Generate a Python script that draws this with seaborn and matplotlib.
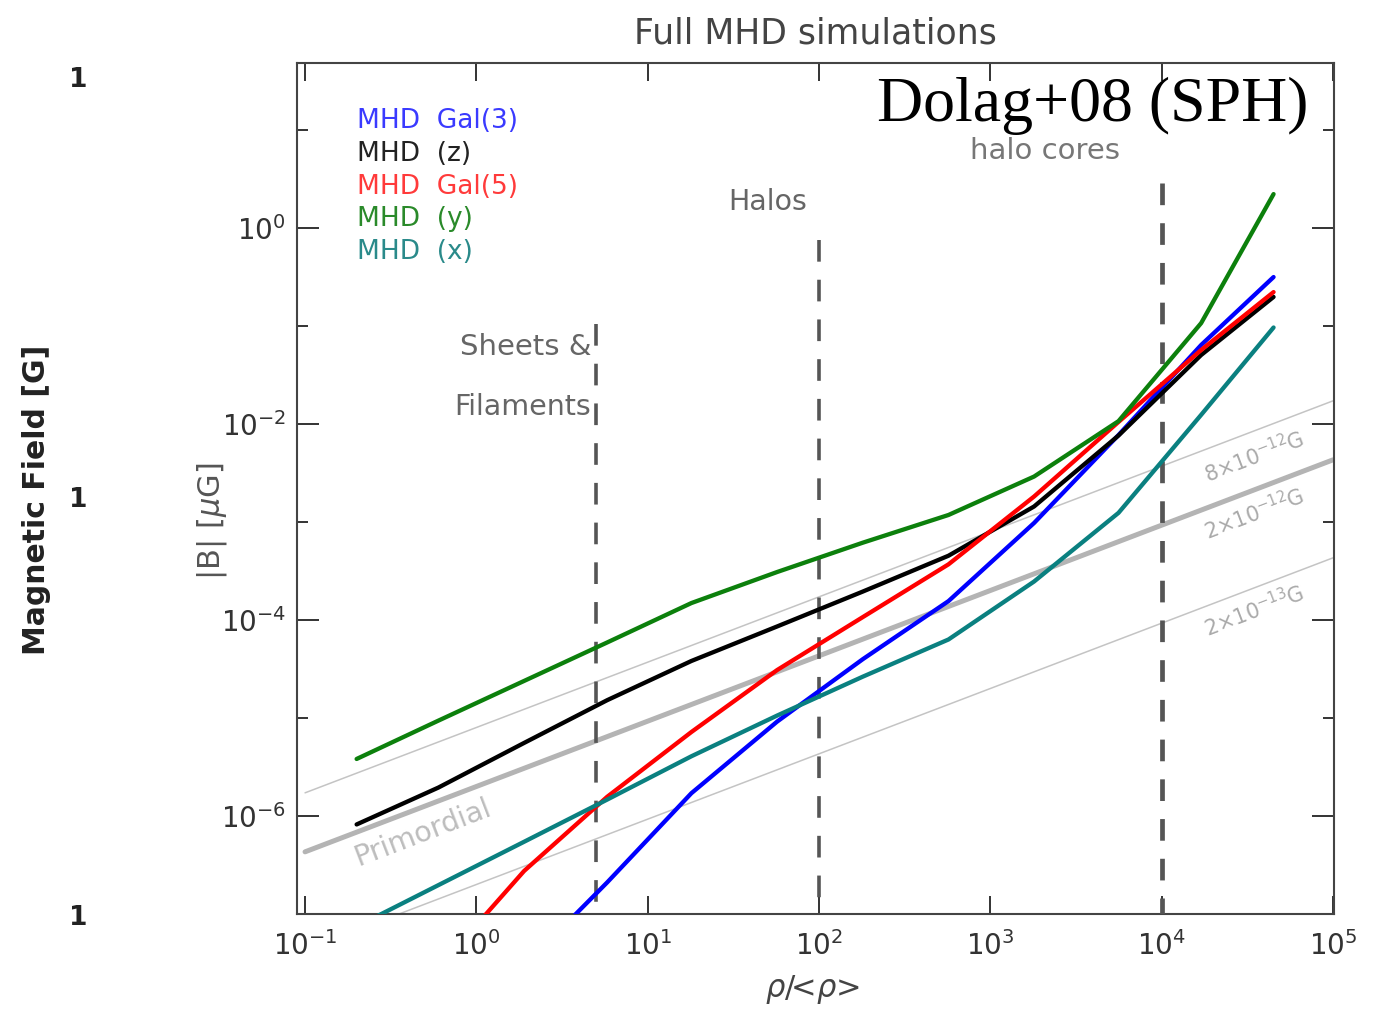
import numpy as np
import pandas as pd
import matplotlib
matplotlib.use("Agg")
import matplotlib.pyplot as plt
import seaborn as sns
from matplotlib.ticker import FixedLocator, FuncFormatter, NullFormatter

nan = np.nan
# ---------------- data ----------------
rho = [0.2, 0.6, 1.9, 5.8, 18, 57, 180, 570, 1800, 5600, 17000, 45000]
b_gal3 = [nan, nan, 2.94e-8, 2.1e-7, 1.71e-6, 9.2e-6, 3.98e-5, 1.56e-4, 9.77e-4, 7.72e-3, 6.4e-2, 0.316]
b_z = [8.2e-7, 1.95e-6, 5.57e-6, 1.52e-5, 3.82e-5, 8.6e-5, 1.95e-4, 4.53e-4, 1.44e-3, 7.63e-3, 5.06e-2, 0.198]
b_gal5 = [nan, 2.81e-8, 2.75e-7, 1.57e-6, 7.2e-6, 3.09e-5, 1.07e-4, 3.7e-4, 1.82e-3, 1.05e-2, 5.69e-2, 0.222]
b_y = [3.82e-6, 9.4e-6, 2.39e-5, 5.9e-5, 1.49e-4, 3.09e-4, 6.15e-4, 1.18e-3, 2.91e-3, 1.07e-2, 1.07e-1, 2.22]
b_x = [7.45e-8, 1.97e-7, 5.46e-7, 1.47e-6, 4.07e-6, 1.06e-5, 2.64e-5, 6.33e-5, 2.47e-4, 1.24e-3, 1.24e-2, 9.66e-2]

series_names = ["MHD  Gal(3)", "MHD  (z)", "MHD  Gal(5)", "MHD  (y)", "MHD  (x)"]
series_values = [b_gal3, b_z, b_gal5, b_y, b_x]
series_colors = ["#0000ff", "#000000", "#ff0000", "#0c800c", "#0a8080"]
legend_colors = ["#3a3aff", "#222222", "#ff3a3a", "#2a8a2a", "#2a8a8a"]

# reference lines B = amp * rho^(2/3) [muG]
ref_rho = [0.1, 1.0e5]
ref_amp = [8e-6, 2e-6, 2e-7]
ref_labels = ["8×10$^{-12}$G", "2×10$^{-12}$G", "2×10$^{-13}$G"]
ref_index = 2.0 / 3.0

# region dividers
div_x = [5, 100, 1e4]
div_top = [0.105, 0.76, 2.9]
div_lw = [2.6, 2.6, 3.4]

xticks = [0.1, 1, 10, 100, 1e3, 1e4, 1e5]
yticks_major = [1e-6, 1e-4, 1e-2, 1e0]
yticks_minor = [1e-7, 1e-5, 1e-3, 1e-1, 1e1]

# ---------------- build long tables ----------------
rows = []
for name, vals in zip(series_names, series_values):
    for r, v in zip(rho, vals):
        if not np.isnan(v):
            rows.append({"rho": r, "B": v, "series": name})
df = pd.DataFrame(rows)

ref_rows = []
for lab, amp in zip(ref_labels, ref_amp):
    for r in ref_rho:
        ref_rows.append({"rho": r, "B": amp * r ** ref_index, "ref": lab})
ref_df = pd.DataFrame(ref_rows)

# ---------------- figure ----------------
sns.set_style("ticks")
plt.rcParams["font.family"] = ["DejaVu Sans"]
plt.rcParams["mathtext.fontset"] = "dejavusans"

W, H = 1374, 1009
fig = plt.figure(figsize=(W / 100, H / 100), dpi=100)
fig.patch.set_facecolor("white")
ax = fig.add_axes([297 / W, 1 - 914 / H, (1334 - 297) / W, (914 - 63) / H])
ax.set_xscale("log")
ax.set_yscale("log")

# reference lines
sns.lineplot(data=ref_df, x="rho", y="B", hue="ref",
             palette=["#c4c4c4", "#b4b4b4", "#c4c4c4"],
             size="ref", sizes=[1.1, 3.6, 1.1],
             legend=False, ax=ax, estimator=None, sort=False)

# dividers (drawn from the top so the dash pattern starts there)
for xv, top, lw in zip(div_x, div_top, div_lw):
    ax.plot([xv, xv], [top, 1e-7], color="#555555", lw=lw,
            dashes=(6.0 * 2.6 / lw, 5.0 * 2.6 / lw), zorder=3)

# simulation curves
sns.lineplot(data=df, x="rho", y="B", hue="series", hue_order=series_names,
             palette=series_colors, linewidth=3.1, legend=False, ax=ax,
             estimator=None, sort=False, zorder=4)

ax.set_xlim(10 ** -1.047, 10 ** 5.006)
ax.set_ylim(1e-7, 10 ** 1.684)
ax.set_xlabel("")
ax.set_ylabel("")

# ticks
ax.xaxis.set_major_locator(FixedLocator(xticks))
ax.xaxis.set_minor_locator(FixedLocator([]))
ax.xaxis.set_major_formatter(FuncFormatter(lambda v, p: r"$10^{%d}$" % int(round(np.log10(v)))))
ax.yaxis.set_major_locator(FixedLocator(yticks_major))
ax.yaxis.set_minor_locator(FixedLocator(yticks_minor))
ax.yaxis.set_major_formatter(FuncFormatter(lambda v, p: r"$10^{%d}$" % int(round(np.log10(v)))))
ax.yaxis.set_minor_formatter(NullFormatter())
ax.tick_params(axis="x", which="major", direction="in", length=13, width=1.4,
               top=True, bottom=True, color="#333333", labelsize=20,
               labelcolor="#333333", pad=12)
ax.tick_params(axis="y", which="major", direction="in", length=15.5, width=1.4,
               left=True, right=True, color="#333333", labelsize=20,
               labelcolor="#333333", pad=8)
ax.tick_params(axis="y", which="minor", direction="in", length=8, width=1.4,
               left=True, right=True, color="#333333")
for s in ax.spines.values():
    s.set_color("#444444")
    s.set_linewidth(1.5)


def fx(px):
    return px / W


def fy(py):
    return 1 - py / H


for i, (name, col) in enumerate(zip(series_names, legend_colors)):
    fig.text(fx(357), fy(121 + 32.8 * i), name, color=col, fontsize=19,
             ha="left", va="center")

fig.text(fx(1093), fy(106), "Dolag+08 (SPH)", family="Liberation Serif",
         fontsize=46, color="black", ha="center", va="center")
fig.text(fx(1045), fy(151), "halo cores", fontsize=21, color="#777777",
         ha="center", va="center")
fig.text(fx(768), fy(202), "Halos", fontsize=20.5, color="#666666",
         ha="center", va="center")
fig.text(fx(591), fy(347), "Sheets &", fontsize=21, color="#666666",
         ha="right", va="center")
fig.text(fx(591), fy(407), "Filaments", fontsize=20.5, color="#666666",
         ha="right", va="center")
fig.text(fx(423), fy(833), "Primordial", fontsize=20.5, color="#bdbdbd",
         ha="center", va="center", rotation=21, rotation_mode="anchor")
for lab, ypx in zip(ref_labels, [456, 513, 610]):
    fig.text(fx(1254), fy(ypx), lab, fontsize=15, color="#aaaaaa",
             ha="center", va="center", rotation=21, rotation_mode="anchor")

# titles / axis labels
fig.text(fx(815), fy(33), "Full MHD simulations", fontsize=25, color="#444444",
         ha="center", va="center")
fig.text(fx(812), fy(990), r"$\rho$/<$\rho$>", fontsize=22, color="#444444",
         ha="center", va="center")
fig.text(fx(212), fy(521), r"|B| [$\mu$G]", fontsize=22, color="#555555",
         ha="center", va="center", rotation=90)
fig.text(fx(37), fy(500), "Magnetic Field [G]", fontsize=21.5, fontweight="bold",
         color="#222222", ha="center", va="center", rotation=90)
for ypx in [80, 500, 918]:
    fig.text(fx(78), fy(ypx), "1", fontsize=19, fontweight="bold",
             color="#222222", ha="center", va="center")

fig.savefig("out.png", dpi=100, facecolor="white")
